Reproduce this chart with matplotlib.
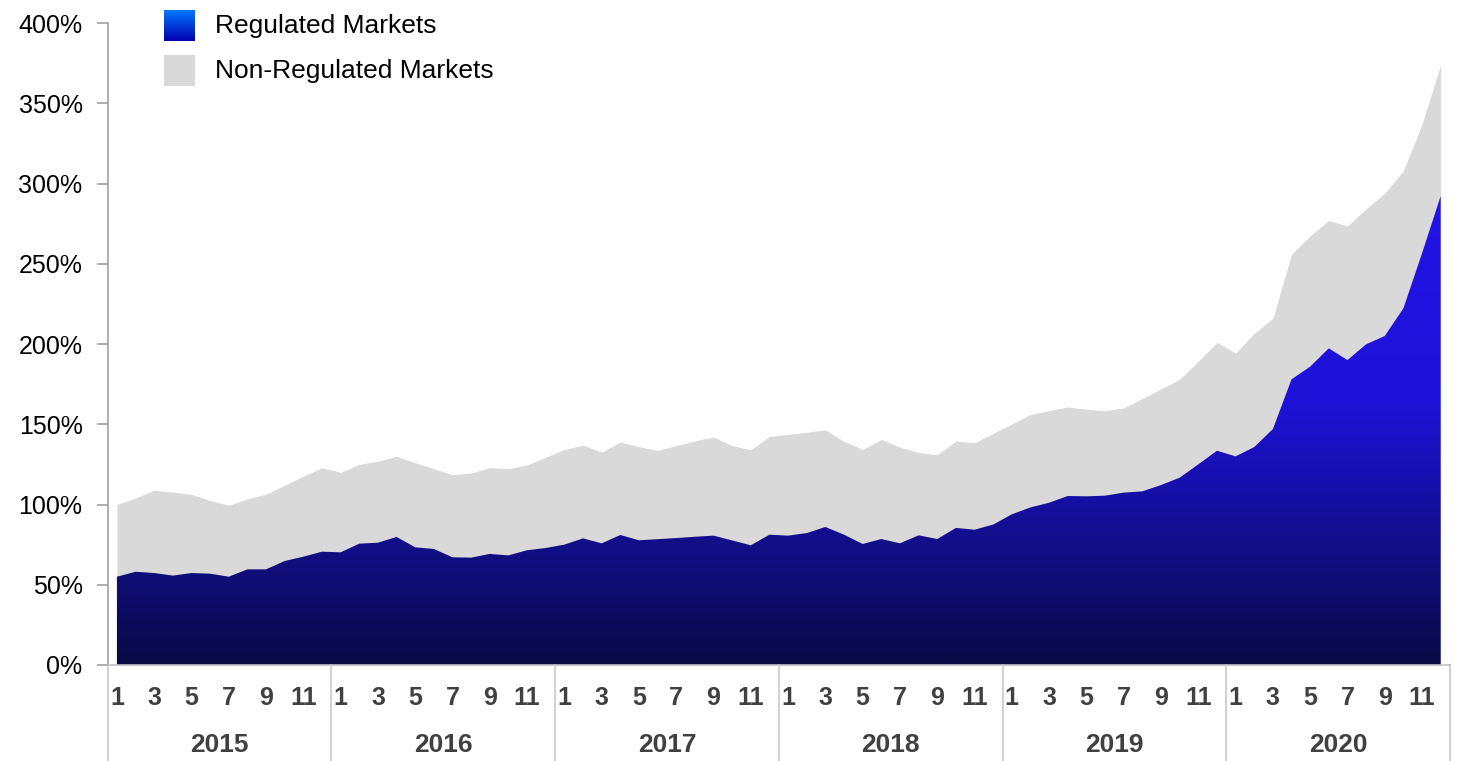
import numpy as np
import matplotlib
matplotlib.use("Agg")
import matplotlib.pyplot as plt
from matplotlib.colors import LinearSegmentedColormap
from matplotlib.transforms import blended_transform_factory

plt.rcParams['font.family'] = ['Liberation Sans', 'DejaVu Sans']

years = ['2015', '2016', '2017', '2018', '2019', '2020']
month_labels = ['1', '', '3', '', '5', '', '7', '', '9', '', '11', '']

regulated = [
    55.0, 58.1, 57.3, 55.7, 57.3, 56.9, 55.0, 59.6, 59.6, 64.8, 67.5, 70.6,
    70.2, 75.6, 76.2, 79.8, 73.3, 72.3, 67.1, 66.9, 69.2, 68.3, 71.5, 72.9,
    75.0, 78.9, 75.8, 81.0, 77.7, 78.4, 79.1, 79.9, 80.6, 77.6, 74.6, 81.2,
    80.6, 82.2, 86.0, 81.2, 75.4, 78.5, 75.8, 80.8, 78.5, 85.4, 84.3, 87.5,
    93.9, 98.2, 101.1, 105.3, 105.1, 105.5, 107.4, 108.2, 112.1, 116.7, 125.0, 133.5,
    130.0, 135.8, 147.0, 178.0, 185.9, 197.3, 190.0, 199.8, 205.0, 222.2, 256.5, 292.2,
]
total = [
    100, 104, 109, 107.7, 106.3, 102.5, 99.5, 103.5, 106.5, 112, 117.6, 123,
    120, 125, 127, 130, 126, 122.3, 118.5, 119.6, 123, 122.3, 124.7, 129.5,
    134.2, 137, 132.6, 139, 136, 133.7, 136.7, 139.7, 142, 136.7, 134, 142.4,
    143.7, 145, 146.5, 139.3, 134.3, 140.6, 135.7, 132.4, 131, 139.5, 138.4, 144.4,
    150.2, 156.1, 158.5, 160.8, 159.4, 158.4, 160.2, 166.1, 172, 178, 189.3, 201,
    194.3, 206.7, 216, 256, 267.4, 277, 273.5, 284.2, 294, 308, 337, 374,
]
y_ticks = [0, 50, 100, 150, 200, 250, 300, 350, 400]
series_names = ['Regulated Markets', 'Non-Regulated Markets']

W, H = 1460, 761
fig = plt.figure(figsize=(W / 100, H / 100), dpi=100)
ax = fig.add_axes([107.6 / W, (H - 665) / H, (1450 - 107.6) / W, (665 - 23) / H])

n = len(regulated)
x = np.arange(n)

# Non-regulated (total) grey area
ax.fill_between(x, 0, total, color='#d9d9d9', linewidth=0, zorder=1)

# Regulated area with vertical gradient
poly = ax.fill_between(x, 0, regulated, facecolor='none', linewidth=0, zorder=2)
cmap = LinearSegmentedColormap.from_list('reg', [
    (0.0, '#0a0a45'), (75 / 400, '#120e88'), (105 / 400, '#160fa5'),
    (165 / 400, '#1e12d8'), (300 / 400, '#2214e6'), (1.0, '#2214e6')])
grad = np.linspace(0, 1, 512).reshape(-1, 1)
im = ax.imshow(grad, extent=[-0.5, n - 0.5, 0, 400], origin='lower',
               aspect='auto', cmap=cmap, zorder=2, interpolation='bilinear')
im.set_clip_path(poly.get_paths()[0], transform=ax.transData)

ax.set_xlim(-0.5, n - 0.5)
ax.set_ylim(0, 400)

# spines
for s in ['top', 'right']:
    ax.spines[s].set_visible(False)
ax.spines['left'].set_color('#a0a0a0')
ax.spines['left'].set_linewidth(1.2)
ax.spines['bottom'].set_color('#c0c0c0')
ax.spines['bottom'].set_linewidth(1.2)

ax.set_yticks(y_ticks)
ax.set_yticklabels([f'{v}%' for v in y_ticks])
ax.tick_params(axis='y', length=8, width=1.2, color='#a0a0a0', pad=10,
               labelsize=18, labelcolor='#000000')
ax.set_xticks([])

# multi-level category axis
trans = blended_transform_factory(ax.transData, ax.transAxes)
for yi, yr in enumerate(years):
    for mi, lab in enumerate(month_labels):
        if lab:
            ax.text(yi * 12 + mi, -0.051, lab, transform=trans, ha='center', va='center',
                    fontsize=18, fontweight='bold', color='#404040')
    ax.text(yi * 12 + 5.5, -0.1246, yr, transform=trans, ha='center', va='center',
            fontsize=19, fontweight='bold', color='#404040')
for b in range(len(years) + 1):
    ax.plot([b * 12 - 0.5, b * 12 - 0.5], [0, -0.15], transform=trans,
            color='#c8c8c8', linewidth=1.2, clip_on=False)

# legend (manual)
lg1 = fig.add_axes([164 / W, (H - 41) / H, 31 / W, 31 / H])
lg1.imshow(np.linspace(1, 0, 64).reshape(-1, 1), aspect='auto',
           cmap=LinearSegmentedColormap.from_list('lg', ['#0000b0', '#0078ff']))
lg1.axis('off')
lg2 = fig.add_axes([164 / W, (H - 86) / H, 31 / W, 31 / H])
lg2.set_facecolor('#d9d9d9')
lg2.set_xticks([]); lg2.set_yticks([])
for s in lg2.spines.values():
    s.set_visible(False)
fig.text(215 / W, (H - 26) / H, series_names[0], fontsize=19, va='center', ha='left', color='#000000')
fig.text(215 / W, (H - 71) / H, series_names[1], fontsize=19, va='center', ha='left', color='#000000')

fig.savefig('out.png', dpi=100)
